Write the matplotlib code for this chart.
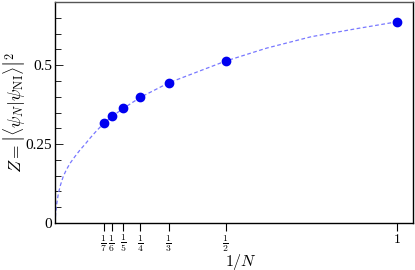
import numpy as np
import matplotlib
matplotlib.use('Agg')
import matplotlib.pyplot as plt
from matplotlib.ticker import MultipleLocator

plt.rcParams['mathtext.fontset'] = 'cm'
plt.rcParams['font.family'] = 'serif'
plt.rcParams['font.serif'] = ['Liberation Serif', 'DejaVu Serif']

# data points, 1/N and Z
n_vals = [7, 6, 5, 4, 3, 2, 1]
z_vals = [0.3155, 0.338, 0.363, 0.398, 0.444, 0.5127, 0.637]

# dashed fit curve
fit_x = [0.0, 0.002, 0.005, 0.01, 0.016, 0.024, 0.033, 0.044, 0.058, 0.073, 0.09,
         0.102, 0.12, 0.143, 0.17, 0.2, 0.25, 0.333, 0.42, 0.5, 0.62, 0.75, 0.88, 1.0]
fit_y = [0.0, 0.031, 0.06, 0.094, 0.12, 0.147, 0.168, 0.189, 0.21, 0.231, 0.252,
         0.268, 0.29, 0.316, 0.34, 0.363, 0.398, 0.444, 0.48, 0.513, 0.554, 0.59, 0.615, 0.637]

tick_labels = [r'$\frac{1}{7}$', r'$\frac{1}{6}$', r'$\frac{1}{5}$', r'$\frac{1}{4}$',
               r'$\frac{1}{3}$', r'$\frac{1}{2}$', r'$1$']

x = [1.0 / n for n in n_vals]

fig = plt.figure(figsize=(4.15, 2.7), dpi=100)
ax = fig.add_axes([0.1325, 0.174, 0.8625, 0.8186])

ax.plot(fit_x, fit_y, ls=(0, (3, 2)), color='#7878ff', lw=0.9)
ax.plot(x, z_vals, 'o', color='#0000f0', ms=6, mec='#0000f0')

ax.set_xlim(0, 1.048)
ax.set_ylim(0, 0.70)

ax.set_xticks(x)
ax.set_xticklabels(tick_labels, fontsize=10)
ax.get_xticklabels()[-1].set_fontsize(10)
ax.tick_params(axis='x', direction='out', length=6, width=0.8, pad=1)

ax.yaxis.set_major_locator(MultipleLocator(0.25))
ax.yaxis.set_minor_locator(MultipleLocator(0.05))
ax.set_yticks([0, 0.25, 0.5])
ax.set_yticklabels(['0', '0.25', '0.5'], fontsize=11)
ax.tick_params(axis='y', which='both', direction='in', length=4, width=0.6, pad=2)
ax.tick_params(axis='y', which='major', length=6)

for s in ax.spines.values():
    s.set_linewidth(1.0)
ax.spines['top'].set_color('#555555')

ax.set_xlabel(r'$1/N$', fontsize=11.5)
ax.xaxis.set_label_coords(0.52, -0.13)
ax.set_ylabel(r'$Z=\left|\langle\psi_N|\psi_{\rm NI}\rangle\right|^2$', fontsize=12.5)
ax.yaxis.set_label_coords(-0.078, 0.5)

fig.savefig('out.png', dpi=100)
